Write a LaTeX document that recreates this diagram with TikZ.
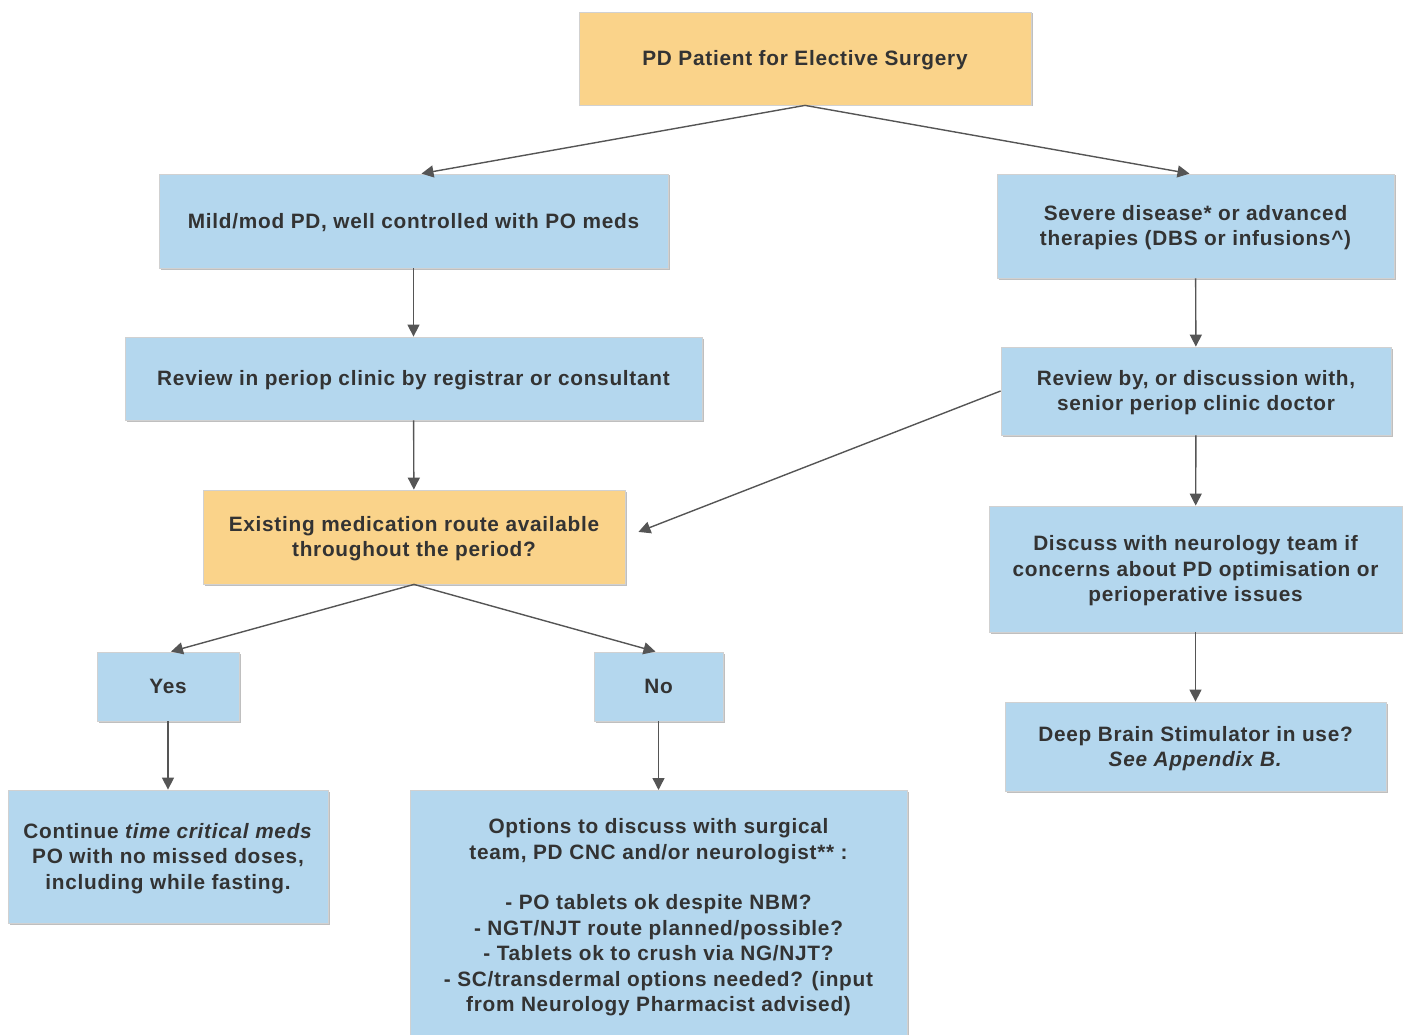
\documentclass[tikz,border=0pt]{standalone}
\usepackage{fontspec}
\setmainfont{Liberation Sans}[LetterSpace=3.5]
\usetikzlibrary{shadows,arrows.meta}
\definecolor{boxblue}{HTML}{B4D7EE}
\definecolor{boxorange}{HTML}{FAD38A}
\definecolor{txt}{HTML}{333333}
\definecolor{arr}{HTML}{555555}
\newcommand\tstr{\rule{0pt}{18.8pt}}
\newcommand\bstr{\rule[-4.4pt]{0pt}{4.4pt}}
\begin{document}
\begin{tikzpicture}[x=1pt,y=-1pt,
  base/.style={draw=black!18, line width=0.8pt, text=txt, align=center, inner sep=0pt,
    font=\fontsize{20.8}{25.4}\selectfont\bfseries,
    drop shadow={shadow xshift=1.5pt, shadow yshift=-1.5pt, opacity=0.25, fill=black}},
  bbox/.style={base, fill=boxblue},
  obox/.style={base, fill=boxorange},
  conn/.style={draw=arr, line width=1.4pt, -{Triangle[length=12pt,width=12pt]}}]
\useasboundingbox (0,0) rectangle (1403,1035);
\node[obox, minimum width=452pt, minimum height=93pt] (top) at (805,58.5) {\tstr PD Patient for Elective Surgery\bstr};
\node[bbox, minimum width=509pt, minimum height=94pt] (mild) at (413.5,221) {\tstr Mild/mod PD, well controlled with PO meds\bstr};
\node[bbox, minimum width=397pt, minimum height=104pt] (severe) at (1195.5,226) {\tstr Severe disease* or advanced\\therapies (DBS or infusions\^{})\bstr};
\node[bbox, minimum width=577pt, minimum height=83pt] (review) at (413.5,378.5) {\tstr Review in periop clinic by registrar or consultant\bstr};
\node[bbox, minimum width=390pt, minimum height=88pt] (reviewby) at (1196,391) {\tstr Review by, or discussion with,\\senior periop clinic doctor\bstr};
\node[obox, minimum width=422pt, minimum height=94pt] (exist) at (414,537) {\tstr Existing medication route available\\throughout the period?\bstr};
\node[bbox, minimum width=413pt, minimum height=126pt] (discuss) at (1195.5,569) {\tstr Discuss with neurology team if\\concerns about PD optimisation or\\perioperative issues\bstr};
\node[bbox, minimum width=142pt, minimum height=69pt] (yes) at (168,686.5) {\tstr Yes\bstr};
\node[bbox, minimum width=129pt, minimum height=69pt] (no) at (658.5,686.5) {\tstr No\bstr};
\node[bbox, minimum width=381pt, minimum height=89pt] (dbs) at (1195.5,746.5) {\tstr Deep Brain Stimulator in use?\\\textit{See Appendix B.}\bstr};
\node[bbox, minimum width=320pt, minimum height=133pt] (cont) at (168,856.5) {\tstr Continue \textit{time critical meds}\\PO with no missed doses,\\including while fasting.\bstr};
\node[bbox, minimum width=497pt, minimum height=250pt, anchor=north] (opt) at (658.5,790) {\tstr Options to discuss with surgical\\team, PD CNC and/or neurologist** :\\[25.4pt]- PO tablets ok despite NBM?\\- NGT/NJT route planned/possible?\\- Tablets ok to crush via NG/NJT?\\- SC/transdermal options needed? (input\\from Neurology Pharmacist advised)\bstr};
\draw[conn] (top.south) -- ([xshift=8pt]mild.north);
\draw[conn] (top.south) -- ([xshift=-6pt]severe.north);
\draw[conn] (mild) -- (review);
\draw[conn] (severe) -- (reviewby);
\draw[conn] (review) -- (exist);
\draw[conn, shorten >=14pt] (reviewby.west) -- (exist.east);
\draw[conn] (reviewby) -- (discuss);
\draw[conn] (exist.south) -- ([xshift=3pt]yes.north);
\draw[conn] (exist.south) -- ([xshift=-3pt]no.north);
\draw[conn] (discuss) -- (dbs);
\draw[conn] (yes) -- (cont);
\draw[conn] (no) -- (opt);
\end{tikzpicture}
\end{document}
